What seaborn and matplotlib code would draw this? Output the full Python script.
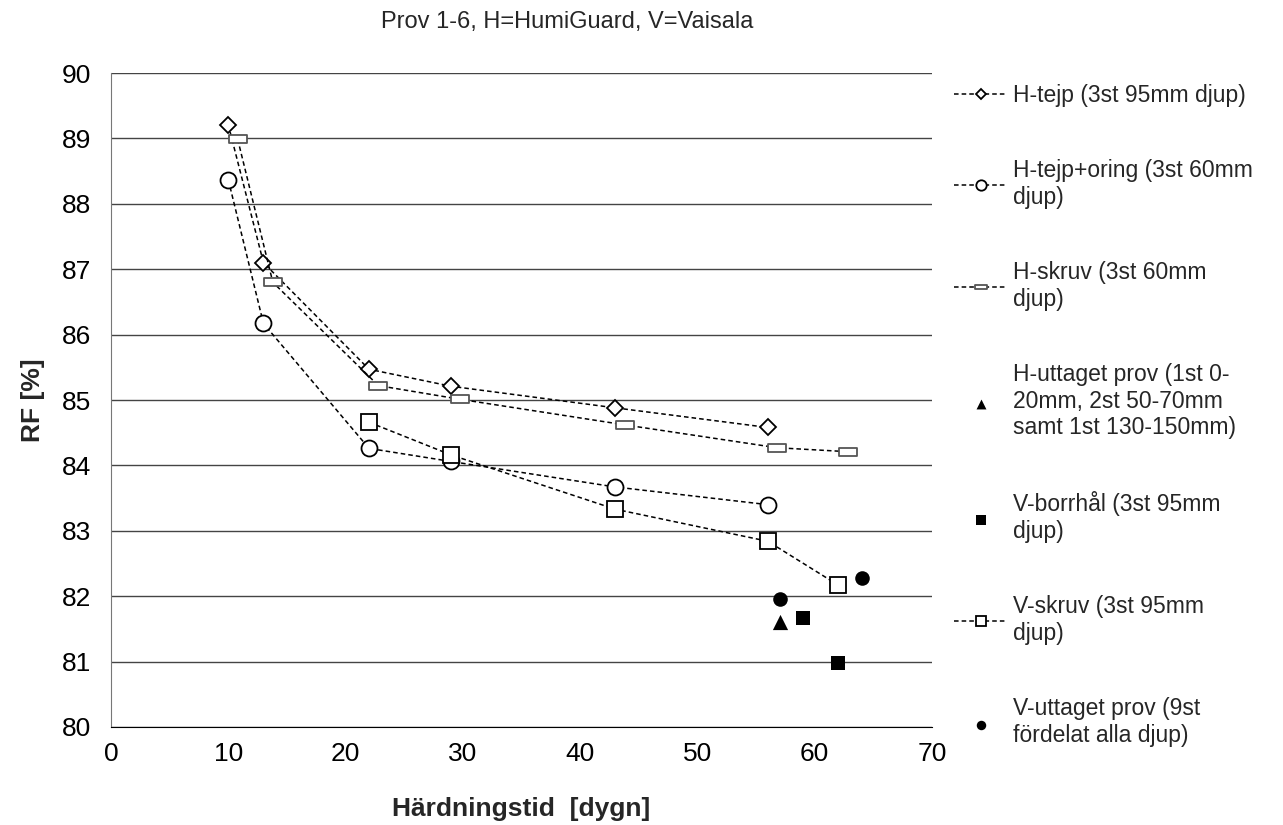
import matplotlib

matplotlib.use("Agg")
import matplotlib.pyplot as plt
import numpy as np
import pandas as pd
import seaborn as sns
from matplotlib.path import Path as MPath

# data
h_tejp_x = [10, 13, 22, 29, 43, 56]
h_tejp_y = [89.21, 87.10, 85.47, 85.21, 84.88, 84.58]

h_oring_x = [10, 13, 22, 29, 43, 56]
h_oring_y = [88.37, 86.17, 84.26, 84.06, 83.67, 83.40]

h_skruv_x = [10.8, 13.8, 22.8, 29.8, 43.8, 56.8, 62.8]
h_skruv_y = [88.99, 86.80, 85.22, 85.01, 84.62, 84.27, 84.21]

h_uttaget_x = [57]
h_uttaget_y = [81.60]

v_borrhal_x = [59, 62]
v_borrhal_y = [81.67, 80.98]

v_skruv_x = [22, 29, 43, 56, 62]
v_skruv_y = [84.66, 84.16, 83.33, 82.84, 82.17]

v_uttaget_x = [57, 64]
v_uttaget_y = [81.96, 82.28]

labels = [
    "H-tejp (3st 95mm djup)",
    "H-tejp+oring (3st 60mm\ndjup)",
    "H-skruv (3st 60mm\ndjup)",
    "H-uttaget prov (1st 0-\n20mm, 2st 50-70mm\nsamt 1st 130-150mm)",
    "V-borrhål (3st 95mm\ndjup)",
    "V-skruv (3st 95mm\ndjup)",
    "V-uttaget prov (9st\nfördelat alla djup)",
]

sns.set_style("white")
plt.rcParams["font.family"] = ["Liberation Sans", "DejaVu Sans"]

# wide flat rectangle marker for H-skruv
rect_marker = MPath(
    [(-1.0, -0.42), (1.0, -0.42), (1.0, 0.42), (-1.0, 0.42), (-1.0, -0.42)],
    [MPath.MOVETO, MPath.LINETO, MPath.LINETO, MPath.LINETO, MPath.CLOSEPOLY],
)

fig = plt.figure(figsize=(12.83, 8.25), dpi=100)
ax = fig.add_axes([0.0865, 0.1188, 0.6399, 0.7927])

line_kw = dict(color="black", linestyle=(0, (3, 2)), linewidth=1.1, ax=ax)

lines_series = [
    (h_tejp_x, h_tejp_y, "D", 8.5, labels[0], "black"),
    (h_oring_x, h_oring_y, "o", 11.5, labels[1], "black"),
    (h_skruv_x, h_skruv_y, rect_marker, 13, labels[2], "#555555"),
    (v_skruv_x, v_skruv_y, "s", 11.5, labels[5], "black"),
]
handles = {}
for xs, ys, mk, ms, lab, mec in lines_series:
    df = pd.DataFrame({"x": xs, "y": ys})
    sns.lineplot(data=df, x="x", y="y", marker=mk, markersize=ms,
                 markerfacecolor="white", markeredgecolor=mec,
                 markeredgewidth=1.3, label=lab, **line_kw)
    handles[lab] = ax.get_lines()[-1]

scatter_series = [
    (h_uttaget_x, h_uttaget_y, "^", 120, labels[3]),
    (v_borrhal_x, v_borrhal_y, "s", 110, labels[4]),
    (v_uttaget_x, v_uttaget_y, "o", 110, labels[6]),
]
for xs, ys, mk, sz, lab in scatter_series:
    df = pd.DataFrame({"x": xs, "y": ys})
    sns.scatterplot(data=df, x="x", y="y", marker=mk, s=sz, color="black",
                    edgecolor="black", linewidth=0, label=lab, ax=ax)
    handles[lab] = ax.collections[-1]

ax.set_xlim(0, 70)
ax.set_ylim(80, 90)
ax.set_xticks(np.arange(0, 71, 10))
ax.set_yticks(np.arange(80, 91, 1))
ax.yaxis.grid(True, color="#444444", linewidth=1.0)
ax.xaxis.grid(False)
ax.set_axisbelow(True)
for side in ["top", "right"]:
    ax.spines[side].set_visible(False)
ax.spines["left"].set_color("#777777")
ax.spines["bottom"].set_color("black")
ax.tick_params(axis="both", which="major", direction="out", length=8,
               width=1, colors="black", labelsize=19, pad=6)
ax.tick_params(axis="y", color="#555555")
ax.tick_params(axis="x", pad=3)

ax.set_xlabel("Härdningstid  [dygn]", fontsize=19, fontweight="bold", labelpad=22)
ax.set_ylabel("RF [%]", fontsize=19, fontweight="bold", labelpad=12)
fig.text(0.442, 0.973, "Prov 1-6, H=HumiGuard, V=Vaisala", fontsize=17,
         ha="center", va="center")

ax.get_legend().remove()
leg = fig.legend([handles[l] for l in labels], labels, loc="upper left",
                 bbox_to_anchor=(0.735, 0.912), frameon=False, fontsize=16.5,
                 handlelength=2.3, handletextpad=0.25, labelspacing=2.28,
                 markerscale=0.65, borderpad=0)

fig.savefig("out.png", dpi=100)
